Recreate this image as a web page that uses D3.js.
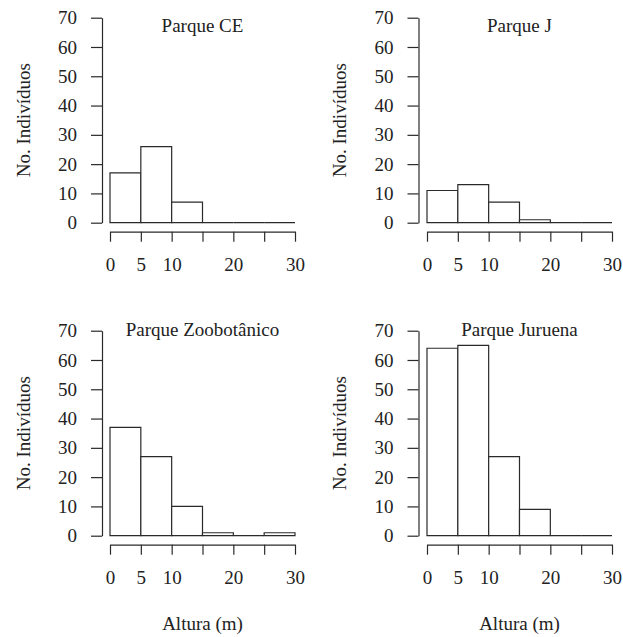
<!DOCTYPE html>
<html>
<head>
<meta charset="utf-8">
<script src="https://cdn.jsdelivr.net/npm/d3@7"></script>
<style>
  html, body { margin: 0; padding: 0; background: #fff; }
  svg text { font-family: "Liberation Serif", "Times New Roman", serif; fill: #222; }
</style>
</head>
<body>
<div id="chart"></div>
<script>
// data
var titles = ['Parque CE', 'Parque J', 'Parque Zoobotânico', 'Parque Juruena'];
var binEdges = [0, 5, 10, 15, 20, 25, 30];
var countsCE = [17, 26, 7, 0, 0, 0];
var countsJ = [11, 13, 7, 1, 0, 0];
var countsZoo = [37, 27, 10, 1, 0, 1];
var countsJur = [64, 65, 27, 9, 0, 0];
var yTicks = [0, 10, 20, 30, 40, 50, 60, 70];
var xTicks = [0, 5, 10, 15, 20, 25, 30];
var xTickLabels = [0, 5, 10, 20, 30];
var yLabel = 'No. Indivíduos';
var xLabel = 'Altura (m)';

var allCounts = [countsCE, countsJ, countsZoo, countsJur];

var width = 623, height = 637;
var svg = d3.select('#chart').append('svg')
  .attr('width', width)
  .attr('height', height);

// panel frames: left edge of x scale, top of y scale
var frames = [
  {x0: 110, x1: 295, top: 17.7, bottom: 222.7, axisX: 102, xlab: false, title: 31.5},
  {x0: 427, x1: 612, top: 17.7, bottom: 222.7, axisX: 418.5, xlab: false, title: 31.5},
  {x0: 110, x1: 295, top: 330.7, bottom: 535.7, axisX: 102, xlab: true, title: 336},
  {x0: 427, x1: 612, top: 330.7, bottom: 535.7, axisX: 418.5, xlab: true, title: 336}
];

var stroke = '#2a2a2a';

frames.forEach(function(f, i) {
  var counts = allCounts[i];
  var x = d3.scaleLinear().domain([0, 30]).range([f.x0, f.x1]);
  var y = d3.scaleLinear().domain([0, 70]).range([f.bottom, f.top]);
  var g = svg.append('g');

  // bars (path so that empty bins still show a line on the baseline)
  g.selectAll('path.bar')
    .data(counts).enter()
    .append('path')
    .attr('class', 'bar')
    .attr('d', function(d, j) {
      var p = d3.path();
      p.moveTo(x(binEdges[j]), y(0));
      p.lineTo(x(binEdges[j]), y(d));
      p.lineTo(x(binEdges[j + 1]), y(d));
      p.lineTo(x(binEdges[j + 1]), y(0));
      p.closePath();
      return p.toString();
    })
    .attr('fill', '#fff')
    .attr('stroke', stroke)
    .attr('stroke-width', 1.2);

  // y axis
  var ya = g.append('g')
    .attr('transform', 'translate(' + f.axisX + ',0)')
    .call(d3.axisLeft(y).tickValues(yTicks).tickSize(11).tickPadding(14).tickSizeOuter(0));

  // x axis
  var xa = g.append('g')
    .attr('transform', 'translate(0,' + (f.bottom + 9) + ')')
    .call(d3.axisBottom(x).tickValues(xTicks).tickSize(10).tickPadding(16).tickSizeOuter(0)
      .tickFormat(function(d) { return xTickLabels.indexOf(d) >= 0 ? d : ''; }));

  [ya, xa].forEach(function(a) {
    a.selectAll('path, line').attr('stroke', stroke).attr('stroke-width', 1.2);
    a.selectAll('text').attr('font-size', '19px').attr('fill', '#222')
      .style('font-family', '"Liberation Serif", serif');
  });

  // title
  g.append('text')
    .attr('x', (f.x0 + f.x1) / 2)
    .attr('y', f.title)
    .attr('text-anchor', 'middle')
    .attr('font-size', '19px')
    .text(titles[i]);

  // y label
  g.append('text')
    .attr('transform', 'translate(' + (f.axisX - 79) + ',' + ((f.top + f.bottom) / 2) + ') rotate(-90)')
    .attr('text-anchor', 'middle')
    .attr('dy', '0.35em')
    .attr('font-size', '19px')
    .text(yLabel);

  if (f.xlab) {
    g.append('text')
      .attr('x', (f.x0 + f.x1) / 2)
      .attr('y', 630)
      .attr('text-anchor', 'middle')
      .attr('font-size', '19px')
      .text(xLabel);
  }
});
</script>
</body>
</html>
